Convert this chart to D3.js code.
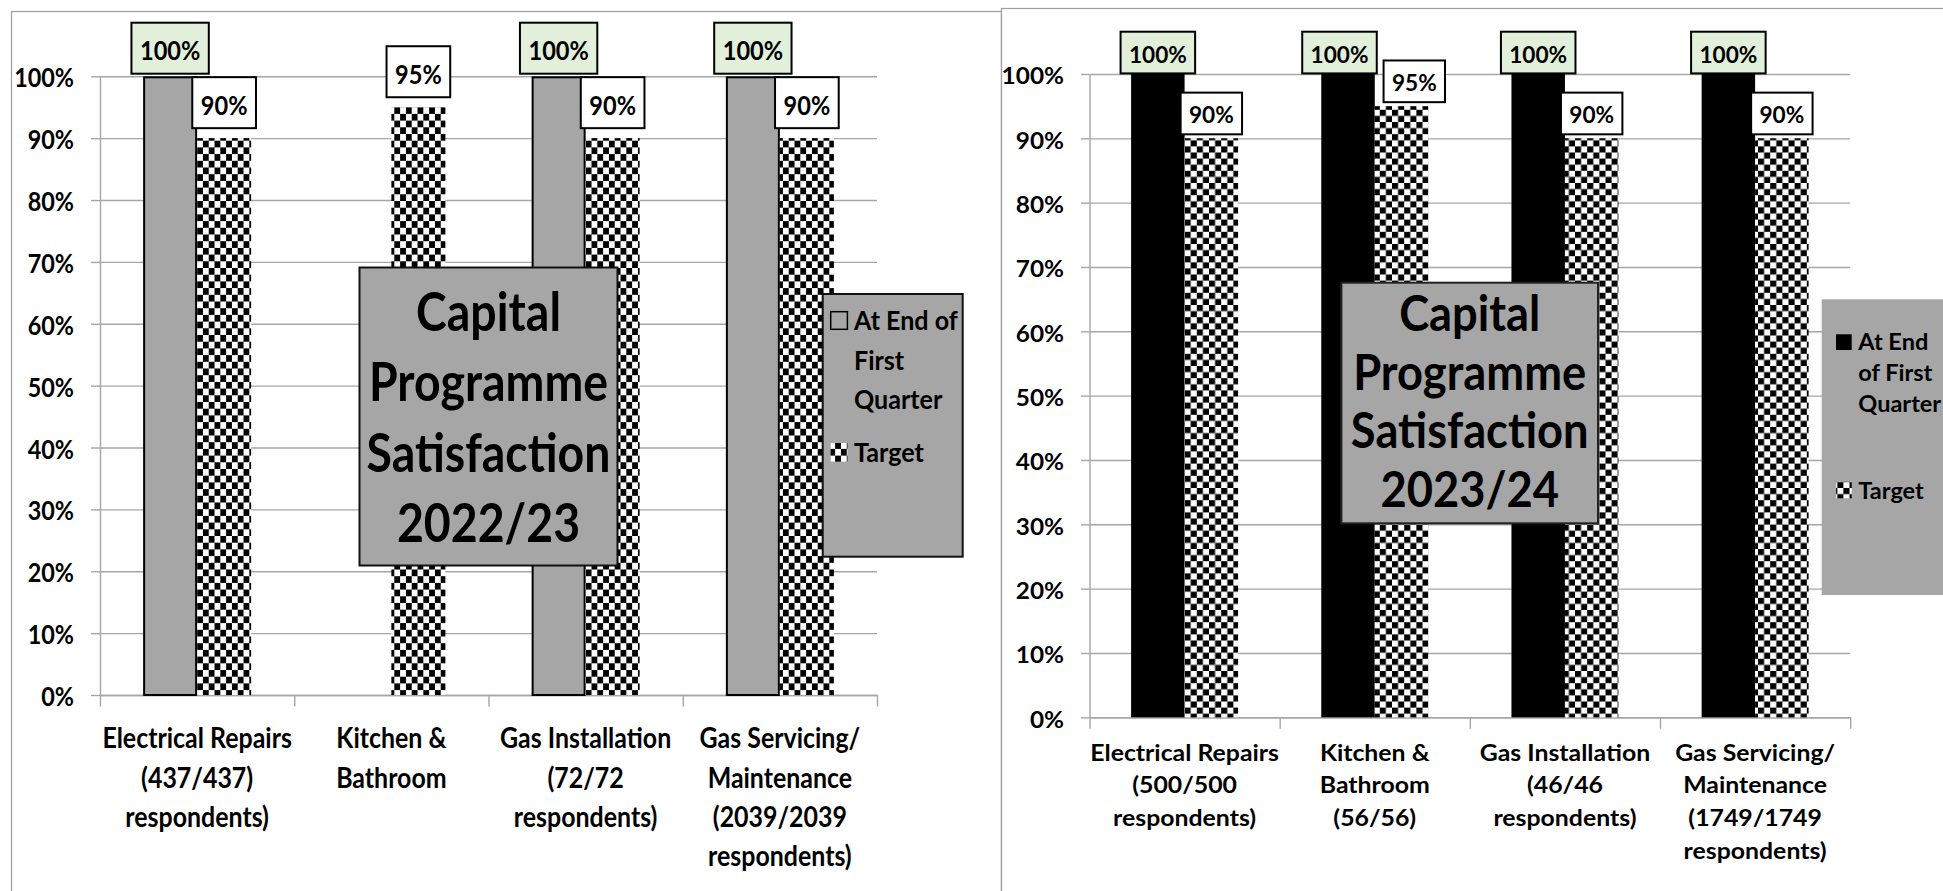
<!DOCTYPE html>
<html>
<head>
<meta charset="utf-8">
<script src="https://cdn.jsdelivr.net/npm/d3@7"></script>
<style>
  html, body { margin: 0; padding: 0; background: #fff; }
  svg { display: block; }
  text { font-family: Lato, "Open Sans", "DejaVu Sans", sans-serif; font-weight: 700; fill: #000; }
</style>
</head>
<body>
<svg id="chart" width="1943" height="891"></svg>
<script>
// ---- data -------------------------------------------------------------
const seriesNames = ["At End of First Quarter", "Target"];
const yTicks = [0, 0.1, 0.2, 0.3, 0.4, 0.5, 0.6, 0.7, 0.8, 0.9, 1.0];

const categories2223 = [
  "Electrical Repairs\n(437/437)\nrespondents)",
  "Kitchen &\nBathroom",
  "Gas Installation\n(72/72\nrespondents)",
  "Gas Servicing/\nMaintenance\n(2039/2039\nrespondents)"
];
const quarter2223 = [1.00, null, 1.00, 1.00];
const target2223  = [0.90, 0.95, 0.90, 0.90];
const titleLines2223  = ["Capital", "Programme", "Satisfaction", "2022/23"];
const legendLines2223 = [["At End of", "First", "Quarter"], ["Target"]];

const categories2324 = [
  "Electrical Repairs\n(500/500\nrespondents)",
  "Kitchen &\nBathroom\n(56/56)",
  "Gas Installation\n(46/46\nrespondents)",
  "Gas Servicing/\nMaintenance\n(1749/1749\nrespondents)"
];
const quarter2324 = [1.00, 1.00, 1.00, 1.00];
const target2324  = [0.90, 0.95, 0.90, 0.90];
const titleLines2324  = ["Capital", "Programme", "Satisfaction", "2023/24"];
const legendLines2324 = [["At End", "of First", "Quarter"], ["Target"]];

// ---- layout per panel -------------------------------------------------
const panels = [
  {
    id: "p2223", categories: categories2223, series: [quarter2223, target2223],
    titleLines: titleLines2223, legendLines: legendLines2223,
    frame: { x: 11.5, y: 11.5, w: 990 },
    xL: 100, xR: 877, y0: 695, y1: 76.3, pad: 0.444,
    tickLen: 9, tickLabelX: 74, tickDy: 10.5, tickSize: 26, tickSx: 0.9,
    xLab: { base: 748.3, lh: 39.3, size: 29, sx: 0.86 },
    dLab: { size: 26.5, sx: 0.89, h: 51, gap: 10, ceil: 22.7, pad: 8.5, dy: 37.5 },
    q: { fill: "#a6a6a6", stroke: "#000", sw: 2 },
    checker: { w: 5.8, h: 6.7 },
    title: { x: 359.5, y: 267.5, w: 258, h: 298, cx: 488.5, base: 331, lh: 70.4, size: 54, sx: 0.86, stroke: "#111" },
    legend: { x: 822.7, y: 294, w: 140, h: 262.7, stroke: "#111", size: 26, sx: 0.965,
              iconX: 830.7, iconW: 16.7, textX: 854, lh: 39.7,
              rows: [{ iconY: 311.7, iconH: 17.6, base: 330 }, { iconY: 443, iconH: 18.6, base: 461.7 }] }
  },
  {
    id: "p2324", categories: categories2324, series: [quarter2324, target2324],
    titleLines: titleLines2324, legendLines: legendLines2324,
    frame: { x: 1001.5, y: 8.5, w: 990 },
    xL: 1089.5, xR: 1850.2, y0: 717.3, y1: 74, pad: 0.4375,
    tickLen: 8.5, tickLabelX: 1064, tickDy: 9.8, tickSize: 23, tickSx: 1.06,
    xLab: { base: 760.7, lh: 32.7, size: 23, sx: 1.08 },
    dLab: { size: 23, sx: 0.985, h: 41.7, gap: 4, ceil: 31.7, pad: 8.3, dy: 30.8, avoid: 6.8 },
    q: { fill: "#000", stroke: "none", sw: 0 },
    checker: { w: 6.1, h: 6.1 },
    title: { x: 1341.4, y: 282.7, w: 256.6, h: 240.6, cx: 1469.7, base: 331, lh: 58.7, size: 50, sx: 0.905, stroke: "#222" },
    legend: { x: 1821.7, y: 299.3, w: 140, h: 295.7, stroke: "none", size: 22, sx: 1.07,
              iconX: 1836, iconW: 15.7, textX: 1858.3, lh: 31.3,
              rows: [{ iconY: 334.3, iconH: 15.7, base: 349.5 }, { iconY: 481.7, iconH: 16.6, base: 498.5 }] }
  }
];

const svg = d3.select("#chart");
const defs = svg.append("defs");
const pct = d3.format(".0%");
const gridColor = "#a6a6a6";

// text drawn with a horizontal scale so the glyph proportions follow the panel
function scaledText(g, x, y, str, size, sx, anchor) {
  return g.append("text")
    .attr("transform", `translate(${x},${y}) scale(${sx},1)`)
    .attr("text-anchor", anchor || "middle")
    .style("font-size", size + "px")
    .text(str);
}

function checkerPattern(id, cw, ch, ox) {
  const p = defs.append("pattern").attr("id", id)
    .attr("patternUnits", "userSpaceOnUse")
    .attr("x", ox).attr("y", 0)
    .attr("width", 2 * cw).attr("height", 2 * ch);
  p.append("rect").attr("width", 2 * cw).attr("height", 2 * ch).attr("fill", "#fff");
  p.append("rect").attr("x", 0).attr("y", 0).attr("width", cw).attr("height", ch).attr("fill", "#000");
  p.append("rect").attr("x", cw).attr("y", ch).attr("width", cw).attr("height", ch).attr("fill", "#000");
}

function drawPanel(c) {
  const g = svg.append("g").attr("id", c.id);
  const n = c.categories.length;

  // chart frame (runs off the bottom of the page)
  g.append("rect").attr("x", c.frame.x).attr("y", c.frame.y)
    .attr("width", c.frame.w).attr("height", 920)
    .attr("fill", "#fff").attr("stroke", "#a0a0a0").attr("stroke-width", 1.3);

  const y = d3.scaleLinear().domain([0, 1]).range([c.y0, c.y1]);
  const x = d3.scaleBand().domain(d3.range(n)).range([c.xL, c.xR])
    .paddingInner(c.pad).paddingOuter(c.pad / 2);
  const xs = d3.scaleBand().domain([0, 1]).range([0, x.bandwidth()]);

  checkerPattern(c.id + "-chk", c.checker.w, c.checker.h, x(0) + xs(1));

  // gridlines
  const grid = g.append("g").attr("transform", `translate(${c.xL},0)`)
    .call(d3.axisLeft(y).tickValues(yTicks).tickSize(-(c.xR - c.xL)).tickFormat(""));
  grid.select(".domain").remove();
  grid.selectAll("line").attr("stroke", gridColor).attr("stroke-width", 1.4);

  // value axis with tick labels
  const ya = g.append("g").attr("transform", `translate(${c.xL},0)`)
    .call(d3.axisLeft(y).tickValues(yTicks).tickFormat(pct).tickSize(c.tickLen).tickSizeOuter(0));
  ya.select(".domain").attr("stroke", gridColor).attr("stroke-width", 1.4);
  ya.selectAll("line").attr("stroke", gridColor).attr("stroke-width", 1.4);
  ya.selectAll("text")
    .attr("x", null).attr("dy", null)
    .attr("text-anchor", "end")
    .attr("transform", `translate(${c.tickLabelX - c.xL},${c.tickDy}) scale(${c.tickSx},1)`)
    .style("font-size", c.tickSize + "px");

  // category axis: boundary ticks between groups
  const xb = d3.scaleLinear().domain([0, n]).range([c.xL, c.xR]);
  const xa = g.append("g").attr("transform", `translate(0,${c.y0})`)
    .call(d3.axisBottom(xb).tickValues(d3.range(n + 1)).tickFormat("").tickSize(11.5).tickSizeOuter(0));
  xa.select(".domain").attr("stroke", gridColor).attr("stroke-width", 1.4);
  xa.selectAll("line").attr("stroke", gridColor).attr("stroke-width", 1.4);

  // bars
  const styles = [
    { fill: c.q.fill, stroke: c.q.stroke, sw: c.q.sw },
    { fill: `url(#${c.id}-chk)`, stroke: "none", sw: 0 }
  ];
  c.series.forEach((vals, s) => {
    g.append("g").selectAll("rect")
      .data(vals.map((v, i) => ({ v, i })).filter(d => d.v != null))
      .join("rect")
      .attr("x", d => x(d.i) + xs(s) + styles[s].sw / 2)
      .attr("y", d => y(d.v) + styles[s].sw / 2)
      .attr("width", xs.bandwidth() - styles[s].sw)
      .attr("height", d => y(0) - y(d.v) - styles[s].sw / 2)
      .attr("fill", styles[s].fill)
      .attr("stroke", styles[s].stroke)
      .attr("stroke-width", styles[s].sw);
  });

  // value labels in boxes; when a target label collides with the quarter
  // label of the same group, the two boxes are pushed apart
  const labelFill = ["#e2efda", "#ffffff"];
  const placed = [];
  function placeLabel(p) {
    p.text.attr("transform", `translate(${p.cx},${p.top + c.dLab.dy}) scale(${c.dLab.sx},1)`);
    p.box.attr("x", p.cx - p.w / 2).attr("y", p.top).attr("width", p.w).attr("height", c.dLab.h);
  }
  c.series.forEach((vals, s) => {
    vals.forEach((v, i) => {
      if (v == null) return;
      const lg = g.append("g");
      const box = lg.append("rect")
        .attr("fill", labelFill[s]).attr("stroke", "#000").attr("stroke-width", 2);
      let top = y(v) - c.dLab.gap - c.dLab.h;
      if (top < c.dLab.ceil) top = c.dLab.ceil;
      const text = scaledText(lg, 0, 0, pct(v), c.dLab.size, c.dLab.sx, "middle");
      const w = text.node().getComputedTextLength() * c.dLab.sx + 2 * c.dLab.pad;
      const p = { i, s, top, w, cx: x(i) + xs(s) + xs.bandwidth() / 2, box, text };
      const prev = placed.find(q => q.i === i && q.s !== s);
      if (prev && c.dLab.avoid != null && p.top < prev.top + c.dLab.h) {
        const overlap = (prev.cx + prev.w / 2 + c.dLab.avoid) - (p.cx - p.w / 2);
        if (overlap > 0) {
          prev.cx -= overlap * 0.4;
          p.cx += overlap * 0.6;
          placeLabel(prev);
        }
      }
      placeLabel(p);
      placed.push(p);
    });
  });

  // category labels
  c.categories.forEach((cat, i) => {
    const cx = x(i) + x.bandwidth() / 2;
    cat.split("\n").forEach((line, k) => {
      scaledText(g, cx, c.xLab.base + k * c.xLab.lh, line, c.xLab.size, c.xLab.sx, "middle");
    });
  });

  // title box
  const T = c.title;
  g.append("rect").attr("x", T.x).attr("y", T.y).attr("width", T.w).attr("height", T.h)
    .attr("fill", "#a6a6a6").attr("stroke", T.stroke).attr("stroke-width", 2);
  c.titleLines.forEach((line, k) => {
    scaledText(g, T.cx, T.base + k * T.lh, line, T.size, T.sx, "middle");
  });

  // legend
  const L = c.legend;
  g.append("rect").attr("x", L.x).attr("y", L.y).attr("width", L.w).attr("height", L.h)
    .attr("fill", "#a6a6a6").attr("stroke", L.stroke).attr("stroke-width", L.stroke === "none" ? 0 : 2);
  c.legendLines.forEach((lines, s) => {
    const row = L.rows[s];
    g.append("rect").attr("x", L.iconX).attr("y", row.iconY)
      .attr("width", L.iconW).attr("height", row.iconH)
      .attr("fill", styles[s].fill)
      .attr("stroke", s === 0 && c.q.stroke !== "none" ? "#000" : "none")
      .attr("stroke-width", 1.5);
    lines.forEach((line, k) => {
      scaledText(g, L.textX, row.base + k * L.lh, line, L.size, L.sx, "start");
    });
  });
}

panels.forEach(drawPanel);
</script>
</body>
</html>
